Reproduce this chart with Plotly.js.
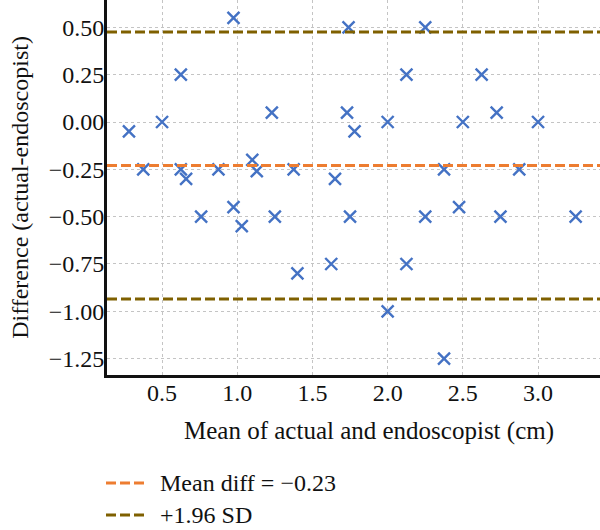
<!DOCTYPE html>
<html>
<head>
<meta charset="utf-8">
<script src="https://cdn.plot.ly/plotly-3.0.1.min.js"></script>
<style>
  html, body { margin: 0; padding: 0; background: #fff; }
  #chart { width: 600px; height: 530px; }
</style>
</head>
<body>
<div id="chart"></div>
<script>
// Bland–Altman comparison: actual vs endoscopist size estimates
const meanValues = [
  0.28, 0.375, 0.5, 0.625, 0.625, 0.66, 0.76, 0.875, 0.975, 0.975,
  1.03, 1.1, 1.13, 1.23, 1.25, 1.375, 1.4, 1.625, 1.65, 1.73,
  1.74, 1.75, 1.78, 2.0, 2.0, 2.125, 2.125, 2.25, 2.25, 2.375,
  2.375, 2.475, 2.5, 2.625, 2.725, 2.75, 2.875, 3.0, 3.25
];
const diffValues = [
  -0.05, -0.25, 0.0, 0.25, -0.25, -0.30, -0.50, -0.25, 0.55, -0.45,
  -0.55, -0.20, -0.26, 0.05, -0.50, -0.25, -0.80, -0.75, -0.30, 0.05,
  0.50, -0.50, -0.05, 0.0, -1.00, 0.25, -0.75, 0.50, -0.50, -0.25,
  -1.25, -0.45, 0.0, 0.25, 0.05, -0.50, -0.25, 0.0, -0.50
];

const meanDiff = -0.23;
const upperLimit = 0.475;
const lowerLimit = -0.935;

const xRange = [0.134, 3.412];
const yRange = [-1.3365, 0.6445];

const xTicks = [0.5, 1.0, 1.5, 2.0, 2.5, 3.0];
const yTicks = [0.5, 0.25, 0.0, -0.25, -0.5, -0.75, -1.0, -1.25];

// key entries drawn under the axis title
const keyLabels = ["Mean diff = \u22120.23", "+1.96 SD"];

const serif = "'Liberation Serif', 'DejaVu Serif', serif";
const fontSize = 24;
const blue = "#4472C4";
const orange = "#ED7D31";
const olive = "#7F6000";
const keyColors = [orange, olive];
const dashStyle = "10px,4px";

const traces = [
  {
    x: meanValues, y: diffValues,
    type: "scatter", mode: "markers",
    name: "Differences",
    showlegend: false,
    marker: { symbol: "x-thin", size: 12, color: blue, line: { color: blue, width: 2.4 } },
    cliponaxis: false
  },
  {
    x: xRange, y: [meanDiff, meanDiff],
    type: "scatter", mode: "lines",
    name: keyLabels[0], showlegend: false,
    line: { color: orange, width: 3, dash: dashStyle }
  },
  {
    x: xRange, y: [upperLimit, upperLimit],
    type: "scatter", mode: "lines",
    name: keyLabels[1], showlegend: false,
    line: { color: olive, width: 3, dash: dashStyle }
  },
  {
    x: xRange, y: [lowerLimit, lowerLimit],
    type: "scatter", mode: "lines",
    name: "\u22121.96 SD", showlegend: false,
    line: { color: olive, width: 3, dash: dashStyle }
  }
];

// page-pixel helpers for the area below the plot
const H = 530, L = 107, W = 600 - L;
const py = px => (H - px) / H;
const pxX = px => (px - L) / W;

const keyRows = [483, 515];
const shapes = keyRows.map((row, i) => ({
  type: "line", xref: "paper", yref: "paper",
  x0: pxX(106), x1: pxX(145), y0: py(row), y1: py(row),
  line: { color: keyColors[i], width: 3, dash: dashStyle }
}));

const annotations = [
  {
    text: "Mean of actual and endoscopist (cm)",
    xref: "paper", yref: "paper",
    x: pxX(369), y: py(431),
    xanchor: "center", yanchor: "middle",
    showarrow: false,
    font: { family: serif, size: 25, color: "#111" }
  }
].concat(keyRows.map((row, i) => ({
  text: keyLabels[i],
  xref: "paper", yref: "paper",
  x: pxX(158), y: py(row),
  xanchor: "left", yanchor: "middle",
  showarrow: false,
  font: { family: serif, size: fontSize, color: "#111" }
})));

const layout = {
  width: 600, height: 530,
  margin: { l: L, r: 0, t: 0, b: 0 },
  paper_bgcolor: "#fff", plot_bgcolor: "#fff",
  font: { family: serif, size: fontSize, color: "#111" },
  showlegend: false,
  xaxis: {
    range: xRange,
    tickvals: xTicks,
    tickformat: ".1f",
    showgrid: true, gridcolor: "#c4c4c4", griddash: "dot", gridwidth: 1,
    zeroline: false,
    showline: true, linecolor: "#111", linewidth: 3,
    ticks: "", ticklabelstandoff: -6,
    tickfont: { family: serif, size: fontSize, color: "#111" }
  },
  yaxis: {
    domain: [155 / 530, 1],
    range: yRange,
    tickvals: yTicks,
    tickformat: ".2f",
    showgrid: true, gridcolor: "#c4c4c4", griddash: "dot", gridwidth: 1,
    zeroline: false,
    showline: true, linecolor: "#111", linewidth: 3,
    ticks: "", ticklabelstandoff: -5,
    tickfont: { family: serif, size: fontSize, color: "#111" },
    title: { text: "Difference (actual-endoscopist)", font: { family: serif, size: fontSize, color: "#111" }, standoff: 14 }
  },
  shapes: shapes,
  annotations: annotations
};

Plotly.newPlot("chart", traces, layout, { displayModeBar: false, staticPlot: true });
</script>
</body>
</html>
